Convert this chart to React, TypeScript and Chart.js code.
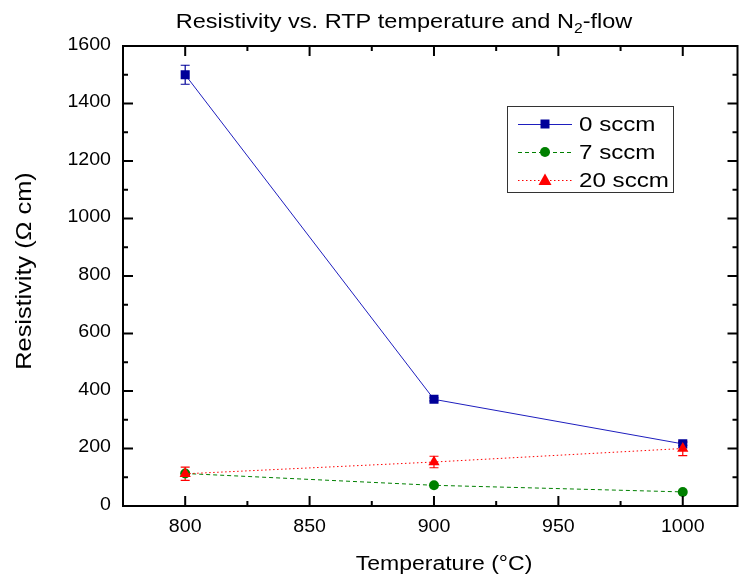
import React, { useEffect, useRef } from "react";
import { Chart, registerables } from "chart.js";

Chart.register(...registerables);

const temperatures = [800, 900, 1000];
const sccm0 = [1500, 371, 216];
const sccm0Err = [33, 5, 5];
const sccm7 = [113, 72, 49];
const sccm7Err = [0, 0, 0];
const sccm20 = [112, 153, 200];
const sccm20Err = [23, 20, 25];
const seriesLabels = ["0 sccm", "7 sccm", "20 sccm"];
const xTicks = [800, 850, 900, 950, 1000];
const xMinorTicks = [775, 825, 875, 925, 975, 1025];
const yTicks = [0, 200, 400, 600, 800, 1000, 1200, 1400, 1600];
const yMinorTicks = [100, 300, 500, 700, 900, 1100, 1300, 1500];

const FONT = '"Liberation Sans", Arial, Helvetica, sans-serif';

const BLUE_LINE = "#1e1ebe";
const BLUE_MARK = "#000099";
const GREEN = "#008000";
const RED = "#ff0000";

const styles = [
  { line: BLUE_LINE, mark: BLUE_MARK, dash: [] as number[], shape: "rect" },
  { line: GREEN, mark: GREEN, dash: [4, 3], shape: "circle" },
  { line: RED, mark: RED, dash: [1.5, 2.5], shape: "triangle" },
];

const errors = [sccm0Err, sccm7Err, sccm20Err];

function drawMarker(ctx: CanvasRenderingContext2D, shape: string, x: number, y: number, color: string) {
  ctx.save();
  ctx.fillStyle = color;
  ctx.beginPath();
  if (shape === "rect") {
    ctx.rect(x - 4.5, y - 4.5, 9, 9);
  } else if (shape === "circle") {
    ctx.arc(x, y, 5, 0, Math.PI * 2);
  } else {
    ctx.moveTo(x, y - 6.5);
    ctx.lineTo(x + 6.5, y + 5);
    ctx.lineTo(x - 6.5, y + 5);
    ctx.closePath();
  }
  ctx.fill();
  ctx.restore();
}

// draw text with a horizontal stretch
function sText(
  ctx: CanvasRenderingContext2D,
  text: string,
  x: number,
  y: number,
  size: number,
  sx: number,
  align: "left" | "center" | "right",
  baseline: CanvasTextBaseline = "alphabetic"
) {
  ctx.save();
  ctx.font = `${size}px ${FONT}`;
  ctx.textAlign = align;
  ctx.textBaseline = baseline;
  ctx.fillStyle = "#000";
  ctx.translate(x, y);
  ctx.scale(sx, 1);
  ctx.fillText(text, 0, 0);
  ctx.restore();
}

function sWidth(ctx: CanvasRenderingContext2D, text: string, size: number, sx: number) {
  ctx.save();
  ctx.font = `${size}px ${FONT}`;
  const w = ctx.measureText(text).width * sx;
  ctx.restore();
  return w;
}

const framePlugin = {
  id: "framePlugin",
  beforeDatasetsDraw(chart: any) {
    const ctx = chart.ctx as CanvasRenderingContext2D;
    const xs = chart.scales.x;
    const ys = chart.scales.y;
    ctx.save();
    ctx.lineWidth = 1.2;
    chart.data.datasets.forEach((ds: any, i: number) => {
      const err = errors[i];
      ctx.strokeStyle = styles[i].mark;
      ds.data.forEach((p: any, j: number) => {
        const e = err[j];
        if (!e) return;
        const px = xs.getPixelForValue(p.x);
        const top = ys.getPixelForValue(p.y + e);
        const bot = ys.getPixelForValue(p.y - e);
        ctx.beginPath();
        ctx.moveTo(px, top);
        ctx.lineTo(px, bot);
        ctx.moveTo(px - 4.5, top);
        ctx.lineTo(px + 4.5, top);
        ctx.moveTo(px - 4.5, bot);
        ctx.lineTo(px + 4.5, bot);
        ctx.stroke();
      });
    });
    ctx.restore();
  },
  afterDraw(chart: any) {
    const ctx = chart.ctx as CanvasRenderingContext2D;
    const a = chart.chartArea;
    const xs = chart.scales.x;
    const ys = chart.scales.y;
    ctx.save();
    ctx.strokeStyle = "#000";
    ctx.lineWidth = 2;
    ctx.strokeRect(a.left, a.top, a.right - a.left, a.bottom - a.top);
    ctx.beginPath();
    const xt = (v: number, len: number) => {
      const px = xs.getPixelForValue(v);
      if (px < a.left - 0.5 || px > a.right + 0.5) return;
      ctx.moveTo(px, a.bottom);
      ctx.lineTo(px, a.bottom - len);
      ctx.moveTo(px, a.top);
      ctx.lineTo(px, a.top + len);
    };
    const yt = (v: number, len: number) => {
      const py = ys.getPixelForValue(v);
      ctx.moveTo(a.left, py);
      ctx.lineTo(a.left + len, py);
      ctx.moveTo(a.right, py);
      ctx.lineTo(a.right - len, py);
    };
    xTicks.forEach((v) => xt(v, 10));
    xMinorTicks.forEach((v) => xt(v, 5));
    yTicks.forEach((v) => yt(v, 10));
    yMinorTicks.forEach((v) => yt(v, 5));
    ctx.stroke();

    // tick labels
    xTicks.forEach((v) => {
      sText(ctx, String(v), xs.getPixelForValue(v), a.bottom + 21, 17.5, 1.12, "center", "middle");
    });
    yTicks.forEach((v) => {
      sText(ctx, String(v), a.left - 12, ys.getPixelForValue(v) - 1, 17.5, 1.12, "right", "middle");
    });

    // title with subscript
    const t1 = "Resistivity vs. RTP temperature and N";
    const t2 = "2";
    const t3 = "-flow";
    const tsx = 1.12;
    const w1 = sWidth(ctx, t1, 21, tsx);
    const w2 = sWidth(ctx, t2, 14, tsx);
    const w3 = sWidth(ctx, t3, 21, tsx);
    let tx = 404 - (w1 + w2 + w3) / 2;
    sText(ctx, t1, tx, 28, 21, tsx, "left");
    tx += w1;
    sText(ctx, t2, tx, 33, 14, tsx, "left");
    tx += w2;
    sText(ctx, t3, tx, 28, 21, tsx, "left");

    // axis titles
    sText(ctx, "Temperature (°C)", 444, 570, 20, 1.15, "center");
    ctx.save();
    ctx.translate(25, 271);
    ctx.rotate(-Math.PI / 2);
    ctx.font = `22px ${FONT}`;
    ctx.textAlign = "center";
    ctx.textBaseline = "middle";
    ctx.fillStyle = "#000";
    ctx.scale(1.15, 1);
    ctx.fillText("Resistivity (Ω cm)", 0, 0);
    ctx.restore();

    // legend
    const lx = 507, ly = 106, lw = 166, lh = 86;
    ctx.lineWidth = 1;
    ctx.strokeStyle = "#333";
    ctx.strokeRect(lx + 0.5, ly + 0.5, lw, lh);
    const rows = [124, 152, 180];
    seriesLabels.forEach((label, i) => {
      const y = rows[i];
      const s = styles[i];
      ctx.save();
      ctx.strokeStyle = s.line;
      ctx.lineWidth = 1;
      ctx.setLineDash(s.dash);
      ctx.beginPath();
      ctx.moveTo(518, y + 0.5);
      ctx.lineTo(572, y + 0.5);
      ctx.stroke();
      ctx.restore();
      drawMarker(ctx, s.shape, 545, y, s.mark);
      sText(ctx, label, 579, y + 1, 21, 1.15, "left", "middle");
    });
    ctx.restore();
  },
};

function mk(values: number[]) {
  return temperatures.map((t, i) => ({ x: t, y: values[i] }));
}

export default function App() {
  const ref = useRef<HTMLCanvasElement | null>(null);
  useEffect(() => {
    document.body.style.margin = "0";
    const canvas = ref.current!;
    const chart = new Chart(canvas, {
      type: "line",
      data: {
        datasets: [
          {
            label: seriesLabels[0],
            data: mk(sccm0),
            borderColor: BLUE_LINE,
            borderWidth: 1,
            pointStyle: "rect",
            pointRadius: 6.4,
            pointBackgroundColor: BLUE_MARK,
            pointBorderColor: BLUE_MARK,
            pointBorderWidth: 0,
            order: 3,
          },
          {
            label: seriesLabels[1],
            data: mk(sccm7),
            borderColor: GREEN,
            borderWidth: 1,
            borderDash: [4, 3],
            pointStyle: "circle",
            pointRadius: 5,
            pointBackgroundColor: GREEN,
            pointBorderColor: GREEN,
            pointBorderWidth: 0,
            order: 2,
          },
          {
            label: seriesLabels[2],
            data: mk(sccm20),
            borderColor: RED,
            borderWidth: 1,
            borderDash: [1.5, 2.5],
            pointStyle: "triangle",
            pointRadius: 6.5,
            pointBackgroundColor: RED,
            pointBorderColor: RED,
            pointBorderWidth: 0,
            order: 1,
          },
        ],
      },
      options: {
        animation: false,
        responsive: false,
        maintainAspectRatio: false,
        layout: { padding: { top: 46, right: 1.5, left: 0, bottom: 0 } },
        plugins: { legend: { display: false }, tooltip: { enabled: false }, title: { display: false } },
        elements: { line: { tension: 0 } },
        scales: {
          x: {
            type: "linear",
            min: 775,
            max: 1022,
            grid: { display: false, drawTicks: false },
            border: { display: false },
            afterBuildTicks: (s: any) => {
              s.ticks = xTicks.map((v) => ({ value: v }));
            },
            afterFit: (s: any) => {
              s.height = 73;
            },
            ticks: { display: false },
          },
          y: {
            type: "linear",
            min: 0,
            max: 1600,
            grid: { display: false, drawTicks: false },
            border: { display: false },
            afterBuildTicks: (s: any) => {
              s.ticks = yTicks.map((v) => ({ value: v }));
            },
            afterFit: (s: any) => {
              s.width = 123;
            },
            ticks: { display: false },
          },
        },
      },
      plugins: [framePlugin],
    } as any);
    return () => chart.destroy();
  }, []);
  return (
    <div style={{ position: "fixed", left: 0, top: 0, width: 744, height: 579 }}>
      <canvas ref={ref} width={744} height={579} style={{ width: 744, height: 579 }} />
    </div>
  );
}
